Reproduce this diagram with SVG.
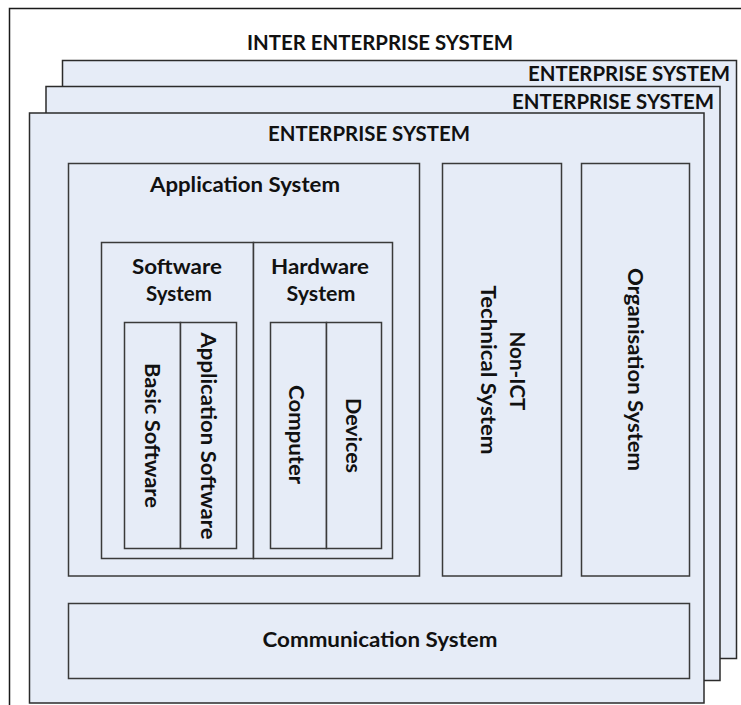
<svg xmlns="http://www.w3.org/2000/svg" width="741" height="705" viewBox="0 0 741 705">
  <style>
    .frame { fill: #e6ecf7; stroke: #2b2b2b; stroke-width: 1.5; }
    .box { fill: #e6ecf7; stroke: #3a3a3a; stroke-width: 1.5; }
    .outer { fill: #ffffff; stroke: #1a1a1a; stroke-width: 1.5; }
    .lbl { font-family: Lato, "Liberation Sans", Arial, sans-serif; font-weight: bold; font-size: 21.5px; fill: #111111; }
    .mid { text-anchor: middle; }
  </style>

  <!-- outermost inter-enterprise frame -->
  <g id="inter-enterprise">
    <rect class="outer" x="9.5" y="8.5" width="760" height="720"/>
    <text class="lbl mid" x="380" y="49.5" textLength="266" lengthAdjust="spacingAndGlyphs">INTER ENTERPRISE SYSTEM</text>
  </g>

  <!-- stacked enterprise frames, back to front -->
  <g id="enterprise-back">
    <rect class="frame" x="62.5" y="60.5" width="674" height="598"/>
    <text class="lbl mid" x="629" y="81" textLength="202" lengthAdjust="spacingAndGlyphs">ENTERPRISE SYSTEM</text>
  </g>
  <g id="enterprise-middle">
    <rect class="frame" x="46" y="86.5" width="674" height="594"/>
    <text class="lbl mid" x="613" y="108.5" textLength="202" lengthAdjust="spacingAndGlyphs">ENTERPRISE SYSTEM</text>
  </g>
  <g id="enterprise-front">
    <rect class="frame" x="29.5" y="113" width="674.5" height="590"/>
    <text class="lbl mid" x="369" y="141" textLength="202" lengthAdjust="spacingAndGlyphs">ENTERPRISE SYSTEM</text>
  </g>

  <!-- application system -->
  <g id="application-system">
    <rect class="box" x="68.5" y="163.5" width="351" height="412.5"/>
    <text class="lbl mid" x="245" y="192" textLength="190" lengthAdjust="spacingAndGlyphs">Application System</text>
  </g>

  <g id="software-system">
    <rect class="box" x="101.5" y="242.5" width="152" height="316"/>
    <text class="lbl mid" x="177" y="274" textLength="90" lengthAdjust="spacingAndGlyphs">Software</text>
    <text class="lbl mid" x="179" y="301" textLength="66" lengthAdjust="spacingAndGlyphs">System</text>
  </g>
  <g id="hardware-system">
    <rect class="box" x="253.5" y="242.5" width="139" height="316"/>
    <text class="lbl mid" x="320" y="274" textLength="98" lengthAdjust="spacingAndGlyphs">Hardware</text>
    <text class="lbl mid" x="321" y="301" textLength="69" lengthAdjust="spacingAndGlyphs">System</text>
  </g>

  <!-- vertical labels read top to bottom -->
  <g id="basic-software">
    <rect class="box" x="124.5" y="322.5" width="56" height="226"/>
    <text class="lbl mid" transform="translate(145 435.5) rotate(90)" textLength="145" lengthAdjust="spacingAndGlyphs">Basic Software</text>
  </g>
  <g id="application-software">
    <rect class="box" x="180.5" y="322.5" width="56" height="226"/>
    <text class="lbl mid" transform="translate(200.5 436) rotate(90)" textLength="207" lengthAdjust="spacingAndGlyphs">Application Software</text>
  </g>

  <g id="computer">
    <rect class="box" x="270.5" y="322.5" width="56" height="226"/>
    <text class="lbl mid" transform="translate(289 434.5) rotate(90)" textLength="99" lengthAdjust="spacingAndGlyphs">Computer</text>
  </g>
  <g id="devices">
    <rect class="box" x="326.5" y="322.5" width="55" height="226"/>
    <text class="lbl mid" transform="translate(346 435.5) rotate(90)" textLength="75" lengthAdjust="spacingAndGlyphs">Devices</text>
  </g>

  <!-- side systems -->
  <g id="non-ict-technical">
    <rect class="box" x="442.5" y="163.5" width="119" height="412.5"/>
    <text class="lbl mid" transform="translate(509.5 371) rotate(90)" textLength="79" lengthAdjust="spacingAndGlyphs">Non-ICT</text>
    <text class="lbl mid" transform="translate(481 370) rotate(90)" textLength="169" lengthAdjust="spacingAndGlyphs">Technical System</text>
  </g>
  <g id="organisation-system">
    <rect class="box" x="581.5" y="163.5" width="108" height="412.5"/>
    <text class="lbl mid" transform="translate(627.5 369.5) rotate(90)" textLength="203" lengthAdjust="spacingAndGlyphs">Organisation System</text>
  </g>

  <!-- communication layer -->
  <g id="communication-system">
    <rect class="box" x="68.5" y="603.5" width="621" height="75"/>
    <text class="lbl mid" x="380" y="647" textLength="235" lengthAdjust="spacingAndGlyphs">Communication System</text>
  </g>

  <g id="connectors"/>
</svg>
